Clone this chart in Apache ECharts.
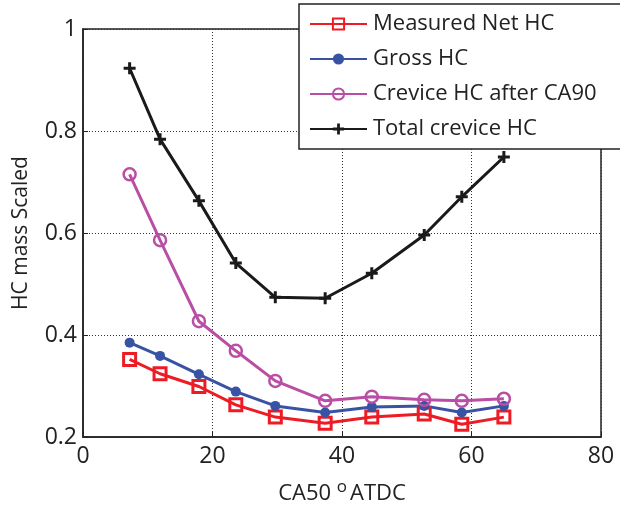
<!DOCTYPE html>
<html>
<head>
<meta charset="utf-8">
<script src="https://cdn.jsdelivr.net/npm/echarts@6/dist/echarts.min.js"></script>
<style>
  html, body { margin: 0; padding: 0; background: #fff; }
  #chart { width: 620px; height: 508px; }
</style>
</head>
<body>
<div id="chart"></div>
<script>
// values
const ca50 = [7.2, 11.9, 17.9, 23.6, 29.7, 37.4, 44.6, 52.7, 58.5, 65.0];
const measuredNet = [0.352, 0.324, 0.299, 0.263, 0.239, 0.227, 0.239, 0.245, 0.225, 0.239];
const gross = [0.385, 0.359, 0.323, 0.289, 0.261, 0.248, 0.259, 0.261, 0.248, 0.261];
const creviceAfter = [0.715, 0.586, 0.427, 0.369, 0.310, 0.271, 0.279, 0.273, 0.271, 0.275];
const totalCrevice = [0.923, 0.784, 0.663, 0.541, 0.474, 0.472, 0.521, 0.596, 0.671, 0.749];

const font = '"Open Sans", "Noto Sans", sans-serif';
const plus = 'path://M-1.5,-6H1.5V-1.5H6V1.5H1.5V6H-1.5V1.5H-6V-1.5H-1.5Z';

const pairs = ys => ca50.map((x, i) => [x, ys[i]]);

const myChart = echarts.init(document.getElementById('chart'), null, { renderer: 'canvas' });

const gridLine = { show: true, lineStyle: { type: [1, 2], color: '#333', width: 1 } };

const option = {
  backgroundColor: '#fff',
  animation: false,
  textStyle: { fontFamily: font },
  grid: {
    left: 83, right: 19, top: 29, bottom: 71,
    outerBoundsMode: 'none', containLabel: false,
    show: true, borderColor: '#222', borderWidth: 1.5, backgroundColor: 'transparent'
  },
  legend: {
    orient: 'vertical',
    left: 299, top: 4,
    padding: [9, 40, 9, 10],
    itemGap: 13,
    itemWidth: 57, itemHeight: 14,
    backgroundColor: '#fff',
    borderColor: '#222', borderWidth: 1.5,
    textStyle: { fontSize: 22, color: '#222', fontFamily: font, padding: [0, 0, 0, 1] },
    data: ['Measured Net HC', 'Gross HC', 'Crevice HC after CA90', 'Total crevice HC']
  },
  xAxis: {
    type: 'value', min: 0, max: 80, interval: 20,
    name: '{a|CA50 }{s|o}{a|ATDC}',
    nameLocation: 'middle', nameGap: 42,
    nameTextStyle: {
      rich: {
        a: { fontSize: 22, color: '#222', fontFamily: font },
        s: { fontSize: 17, color: '#222', fontFamily: font, verticalAlign: 'top', padding: [0, 3, 12, 0] }
      }
    },
    axisLine: { show: true, onZero: false, lineStyle: { color: '#222', width: 1.5 } },
    axisTick: { inside: true, length: 5, lineStyle: { color: '#222' } },
    axisLabel: { fontSize: 23, color: '#222', margin: 8 },
    splitLine: gridLine
  },
  yAxis: {
    type: 'value', min: 0.2, max: 1, interval: 0.2,
    name: 'HC mass Scaled',
    nameLocation: 'middle', nameGap: 51,
    nameTextStyle: { fontSize: 21, color: '#222', fontFamily: font },
    axisLine: { show: true, onZero: false, lineStyle: { color: '#222', width: 1.5 } },
    axisTick: { inside: true, length: 5, lineStyle: { color: '#222' } },
    axisLabel: { fontSize: 23, color: '#222', margin: 6, formatter: v => String(+v.toFixed(1)) },
    splitLine: gridLine
  },
  series: [
    {
      name: 'Measured Net HC', type: 'line', data: pairs(measuredNet),
      symbol: 'rect', symbolSize: 12,
      lineStyle: { color: '#ed1c24', width: 3 },
      itemStyle: { color: 'rgba(255,255,255,0)', borderColor: '#ed1c24', borderWidth: 3 }
    },
    {
      name: 'Gross HC', type: 'line', data: pairs(gross),
      symbol: 'circle', symbolSize: 10,
      lineStyle: { color: '#3853a4', width: 3 },
      itemStyle: { color: '#3853a4', borderColor: '#3853a4', borderWidth: 0 }
    },
    {
      name: 'Crevice HC after CA90', type: 'line', data: pairs(creviceAfter),
      symbol: 'circle', symbolSize: 12,
      lineStyle: { color: '#b94ea5', width: 3 },
      itemStyle: { color: 'rgba(255,255,255,0)', borderColor: '#b94ea5', borderWidth: 2.5 }
    },
    {
      name: 'Total crevice HC', type: 'line', data: pairs(totalCrevice),
      symbol: plus, symbolSize: 12,
      lineStyle: { color: '#1a1a1a', width: 3 },
      itemStyle: { color: '#1a1a1a' }
    }
  ]
};

myChart.setOption(option);
</script>
</body>
</html>
